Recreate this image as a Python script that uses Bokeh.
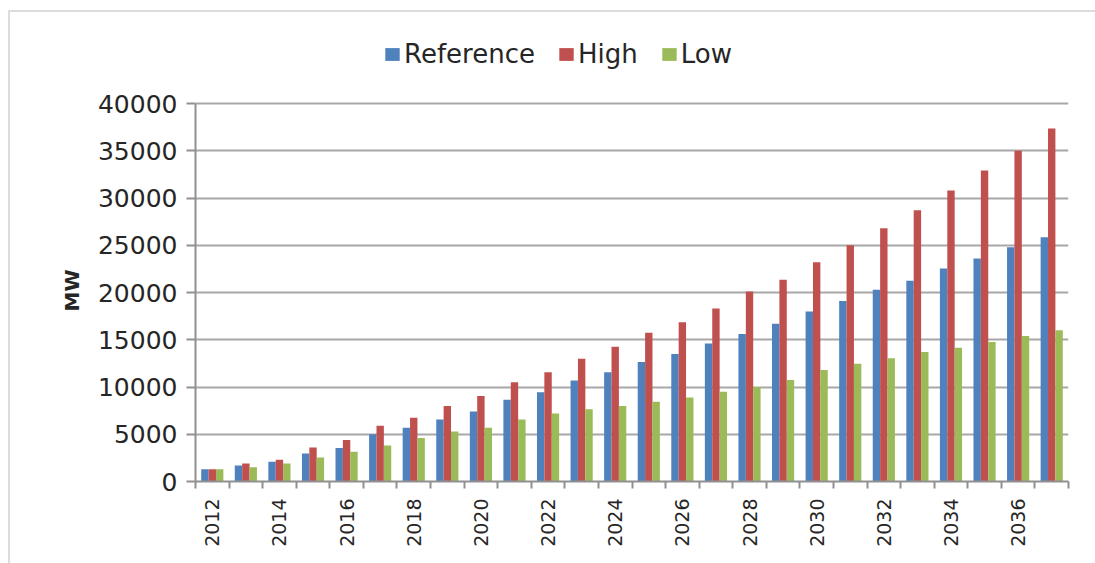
from math import pi

from bokeh.embed import file_html
from bokeh.models import (ColumnDataSource, FixedTicker, Legend, LegendItem, Title)
from bokeh.plotting import figure
from bokeh.resources import INLINE
from bokeh.transform import dodge

# Installed capacity projections, MW
years = list(range(2012, 2038))
reference = [1300, 1700, 2100, 2950, 3550, 5000, 5700, 6550, 7400, 8650,
             9450, 10700, 11550, 12650, 13500, 14600, 15600, 16700, 18000,
             19100, 20300, 21250, 22550, 23600, 24800, 25850]
high = [1300, 1900, 2300, 3600, 4400, 5900, 6750, 8000, 9050, 10500,
        11550, 13000, 14250, 15750, 16850, 18300, 20100, 21350, 23200,
        25000, 26800, 28700, 30800, 32900, 35000, 37350]
low = [1300, 1500, 1900, 2550, 3150, 3800, 4600, 5300, 5700, 6550,
       7200, 7650, 8000, 8450, 8900, 9500, 10000, 10750, 11800,
       12450, 13050, 13700, 14150, 14750, 15400, 16000]
series_names = ["Reference", "High", "Low"]
y_ticks = list(range(0, 40001, 5000))
labelled_years = years[::2]

colors = ["#4F81BD", "#C0504D", "#9BBB59"]
FONT = "DejaVu Sans"
TEXT = "#262626"
GRID = "#a8a8a8"
AXIS = "#909090"

# Layout (pixels inside the figure): the frame reaches up into the legend
# row so the legend can live inside it; the value axis stops at 40000.
FIG_W, FIG_H = 1087, 553
BORDER_TOP, BORDER_BOTTOM = 18, 84
PLOT_TOP_PX = 91            # where the 40000 line sits
frame_h = FIG_H - BORDER_TOP - BORDER_BOTTOM
axis_h = FIG_H - PLOT_TOP_PX - BORDER_BOTTOM
y_max = y_ticks[-1] * frame_h / axis_h

source = ColumnDataSource(dict(year=years, reference=reference, high=high, low=low))

p = figure(width=FIG_W, height=FIG_H, output_backend="svg", toolbar_location=None,
           x_range=(years[0] - 0.5, years[-1] + 0.5), y_range=(0, y_max),
           min_border_left=185, min_border_right=29,
           min_border_top=BORDER_TOP, min_border_bottom=BORDER_BOTTOM)
p.margin = (10, 0, 0, 8)
p.styles = {"border-top": "2px solid #dcdcdc", "border-left": "2px solid #dcdcdc"}
p.outline_line_color = None
p.background_fill_color = "white"
p.border_fill_color = "white"

bar_w = 0.22
renderers = []
for col, off, color in zip(["reference", "high", "low"], [-bar_w, 0, bar_w], colors):
    r = p.vbar(x=dodge("year", off, range=p.x_range), top=col, width=bar_w,
               source=source, fill_color=color, line_color=None)
    renderers.append(r)

# y axis
p.yaxis.ticker = FixedTicker(ticks=y_ticks)
p.yaxis.bounds = (y_ticks[0], y_ticks[-1])
p.yaxis.minor_tick_line_color = None
p.yaxis.major_tick_in = 0
p.yaxis.major_tick_out = 9
p.yaxis.major_tick_line_color = AXIS
p.yaxis.major_tick_line_width = 2
p.yaxis.axis_line_color = AXIS
p.yaxis.axis_line_width = 2
p.yaxis.major_label_text_font = FONT
p.yaxis.major_label_text_font_size = "25px"
p.yaxis.major_label_text_color = TEXT
p.yaxis.major_label_standoff = 9

# axis title, centred on the 0-40000 span rather than the whole frame
MW_HALF_LEN = 19
mw_title = Title(text="MW", align="left", offset=axis_h / 2 - MW_HALF_LEN,
                 text_font=FONT, text_font_size="20px", text_font_style="bold",
                 text_color=TEXT, standoff=22)
p.add_layout(mw_title, "left")

# x axis: labels on every other year, ticks between categories
boundaries = [y - 0.5 for y in years] + [years[-1] + 0.5]
p.xaxis.ticker = FixedTicker(ticks=labelled_years, minor_ticks=boundaries)
p.xaxis.major_tick_in = 0
p.xaxis.major_tick_out = 0
p.xaxis.minor_tick_in = 0
p.xaxis.minor_tick_out = 7
p.xaxis.minor_tick_line_color = AXIS
p.xaxis.minor_tick_line_width = 2
p.xaxis.axis_line_color = AXIS
p.xaxis.axis_line_width = 2
p.xaxis.major_label_orientation = pi / 2
p.xaxis.major_label_text_font = FONT
p.xaxis.major_label_text_font_size = "19px"
p.xaxis.major_label_text_color = TEXT
p.xaxis.major_label_standoff = 10

p.xgrid.grid_line_color = None
p.ygrid.grid_line_color = GRID
p.ygrid.grid_line_width = 2

legend = Legend(items=[LegendItem(label=n, renderers=[r]) for n, r in zip(series_names, renderers)],
                orientation="horizontal", location=(188, 412),
                glyph_width=18, glyph_height=16, label_standoff=3, spacing=22,
                padding=0, margin=0, border_line_color=None,
                background_fill_alpha=0,
                label_text_font=FONT, label_text_font_size="26px",
                label_text_color=TEXT)
p.add_layout(legend)

open("out.html", "w").write(file_html(p, INLINE))
